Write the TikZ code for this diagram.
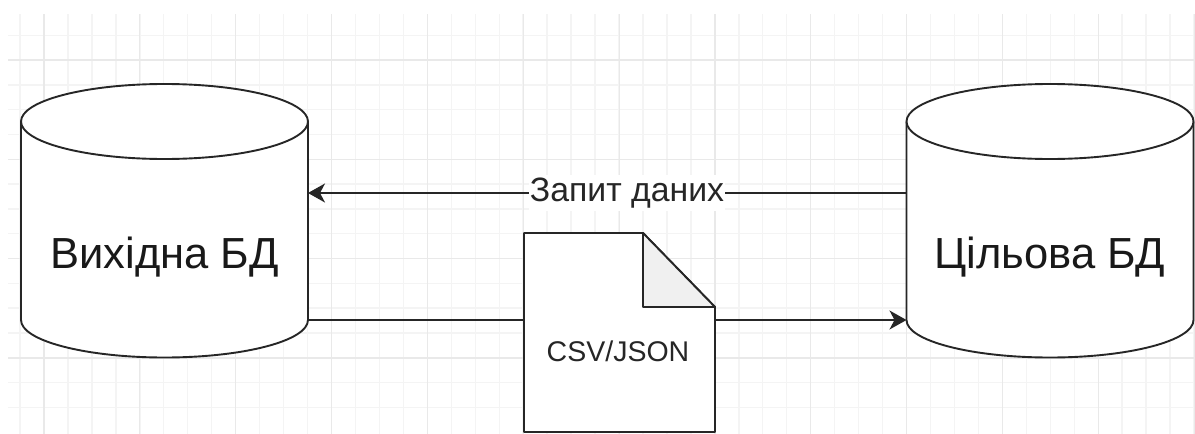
\documentclass[tikz,border=0pt]{standalone}
\usepackage{fontspec}
\setmainfont{Liberation Sans}
\usetikzlibrary{arrows.meta}
\definecolor{gridmajor}{HTML}{E9E9E9}
\definecolor{gridminor}{HTML}{F4F4F4}
\definecolor{foldfill}{HTML}{F0F0F0}
\tikzset{
  outline/.style={draw=black!85, line width=1.9pt, line join=round},
  cylbox/.style={minimum width=287pt, minimum height=274pt, inner sep=0pt, outer sep=0pt},
  docbox/.style={minimum width=191pt, minimum height=199pt, inner sep=0pt, outer sep=0pt},
  conn/.style={draw=black!85, line width=1.7pt, -{Stealth[length=17pt,width=19pt,inset=5pt]}},
  plain/.style={draw=black!85, line width=1.7pt},
  biglbl/.style={font=\fontsize{43.5}{46}\selectfont, text=black!90},
  lbl/.style={fill=white, inner sep=1pt, minimum height=36pt, font=\fontsize{33.8}{36}\selectfont, text=black!85},
}
\newcommand{\cylinder}[1]{% centre x
  \path[outline, fill=white] (#1-143.5,121.5) -- (#1-143.5,320)
    arc[x radius=143.5, y radius=37.5, start angle=180, end angle=0]
    -- (#1+143.5,121.5);
  \path[outline, fill=white] (#1,121.5) ellipse[x radius=143.5, y radius=37.5];
}
\begin{document}
\begin{tikzpicture}[x=1pt,y=-1pt]
  \useasboundingbox (0,0) rectangle (1195,434);
  \fill[white] (0,0) rectangle (1195,434);
  % grid
  \foreach \k in {0,...,49} {
    \pgfmathsetmacro{\gx}{20+23.96*\k}
    \draw[gridminor, line width=1.4pt] (\gx,14) -- (\gx,434);
  }
  \foreach \k in {1,...,16} {
    \pgfmathsetmacro{\gy}{10.4+24.8*\k}
    \draw[gridminor, line width=1.4pt] (8,\gy) -- (1195,\gy);
  }
  \foreach \k in {0,...,12} {
    \pgfmathsetmacro{\gx}{44+95.85*\k}
    \draw[gridmajor, line width=1.2pt] (\gx,14) -- (\gx,434);
  }
  \foreach \k in {0,...,3} {
    \pgfmathsetmacro{\gy}{60+99.3*\k}
    \draw[gridmajor, line width=1.2pt] (8,\gy) -- (1195,\gy);
  }
  % cylinders
  \cylinder{164.5}
  \cylinder{1050}
  \node[cylbox] (src) at (164.5,221) {};
  \node[cylbox] (tgt) at (1050,221) {};
  \node[biglbl] (srclabel) at (164.5,257) {Вихідна БД};
  \node[biglbl] (tgtlabel) at (1050,257) {Цільова БД};
  % connectors
  \node[docbox] (doc) at (619.5,332.5) {};
  \coordinate (srcTop) at (src.east |- 0,193);
  \coordinate (tgtTop) at (tgt.west |- 0,193);
  \coordinate (srcLow) at (src.east |- 0,320);
  \coordinate (tgtLow) at (tgt.west |- 0,320);
  \coordinate (docL) at (doc.west |- 0,320);
  \coordinate (docR) at (doc.east |- 0,320);
  \draw[conn] (tgtTop) -- node[lbl, pos=0.467] (asklabel) {Запит даних} (srcTop);
  \draw[plain] (srcLow) -- (docL);
  \draw[conn] (docR) -- (tgtLow);
  % document
  \path[outline, fill=white] (doc.north west) -- (643,233) -- (doc.east |- 0,307) -- (doc.south east) -- (doc.south west) -- cycle;
  \path[outline, fill=foldfill] (643,233) -- (doc.east |- 0,307) -- (643,307) -- cycle;
  \node[font=\fontsize{28.5}{30}\selectfont, text=black!85] (doclabel) at (618,351) {CSV/JSON};
\end{tikzpicture}
\end{document}
